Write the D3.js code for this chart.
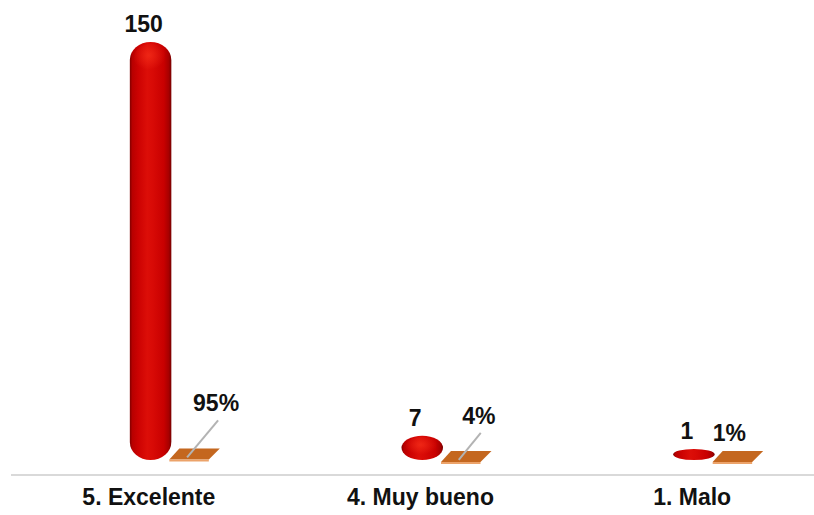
<!DOCTYPE html>
<html>
<head>
<meta charset="utf-8">
<script src="https://cdn.jsdelivr.net/npm/d3@7/dist/d3.min.js"></script>
<style>
  html, body { margin: 0; padding: 0; background: #ffffff; }
  svg { display: block; }
  text { font-family: "Liberation Sans", Arial, sans-serif; font-weight: bold; fill: #111; }
</style>
</head>
<body>
<svg id="chart" width="814" height="515"></svg>
<script>
// Ratings and their counts / shares
const categories = ["5. Excelente", "4. Muy bueno", "1. Malo"];
const counts = [150, 7, 1];
const shares = [0.95, 0.04, 0.01];
const seriesNames = ["Cantidad", "Porcentaje"];

// Manual placement of the share labels (offset from the flat marker), with leader flag
const shareLabelLayout = [
  { dx: 24, dy: -37, leader: true },
  { dx: 15, dy: -27, leader: true },
  { dx: -6, dy: -10, leader: false }
];

const W = 814, H = 515;
const svg = d3.select("#chart");
const baseLineY = 475;

const x = d3.scaleBand().domain(categories).range([13, 828]).padding(0);
const xs = d3.scaleBand().domain(seriesNames).range([-19, 64]).paddingInner(0);
const y = d3.scaleLinear().domain([0, 150]).range([455, 42]);

const defs = svg.append("defs");
const cyl = defs.append("linearGradient").attr("id", "cyl").attr("x1", "0").attr("x2", "1").attr("y1", "0").attr("y2", "0");
[["0%", "#800000"], ["6%", "#b80000"], ["20%", "#cc0202"], ["42%", "#dc0e08"], ["55%", "#d80a06"], ["82%", "#c80000"], ["94%", "#a60000"], ["100%", "#760000"]]
  .forEach(([o, c]) => cyl.append("stop").attr("offset", o).attr("stop-color", c));
const capGlow = defs.append("radialGradient").attr("id", "capGlow").attr("cx", "0.45").attr("cy", "0.4").attr("r", "0.5");
capGlow.append("stop").attr("offset", "0%").attr("stop-color", "#ff3a20").attr("stop-opacity", 0.55);
capGlow.append("stop").attr("offset", "100%").attr("stop-color", "#ff3a20").attr("stop-opacity", 0);

// Baseline
svg.append("line")
  .attr("x1", 11).attr("x2", W).attr("y1", baseLineY).attr("y2", baseLineY)
  .attr("stroke", "#d9d9d9").attr("stroke-width", 2);

const bw = xs.bandwidth();
const barBottom = 460;
const minBarHeight = 11;

function capsule(cx, r, yt, yb) {
  const h = yb - yt;
  const ry = Math.min(18, h / 2);
  return `M${cx - r},${yt + ry} A${r},${ry} 0 0 1 ${cx + r},${yt + ry} L${cx + r},${yb - ry} A${r},${ry} 0 0 1 ${cx - r},${yb - ry} Z`;
}

const groups = svg.selectAll("g.cat").data(categories).join("g").attr("class", "cat")
  .attr("transform", d => `translate(${x(d) + x.bandwidth() / 2},0)`);

// Count cylinders
groups.each(function (d, i) {
  const g = d3.select(this);
  const cx = xs(seriesNames[0]) + bw / 2;
  const r = bw / 2;
  const yt = Math.min(y(counts[i]), barBottom - minBarHeight);
  const path = capsule(cx, r, yt, barBottom);
  g.append("path").attr("d", path).attr("fill", "url(#cyl)");
  const ry = Math.min(18, (barBottom - yt) / 2);
  if (barBottom - yt > 16) {
    g.append("ellipse").attr("cx", cx).attr("cy", yt + ry * 0.9).attr("rx", r * 0.8).attr("ry", ry * 0.8)
      .attr("fill", "url(#capGlow)");
  }
  g.append("text")
    .attr("x", cx - 7).attr("y", yt - 10)
    .attr("text-anchor", "middle").attr("font-size", 23)
    .text(counts[i]);
});

// Share markers (flat, near zero height) with labels
groups.each(function (d, i) {
  const g = d3.select(this);
  const cx = xs(seriesNames[1]) + bw / 2;
  const yTop = y(shares[i]) - 4;
  const yFront = yTop + 11;
  const shear = 8;
  const half = bw / 2;
  g.append("path")
    .attr("d", `M${cx - half + shear},${yTop} L${cx + half + shear - 1},${yTop} L${cx + half - 4},${yFront} L${cx - half - 2},${yFront} Z`)
    .attr("fill", "#c4671f");
  g.append("path")
    .attr("d", `M${cx - half - 2},${yFront} L${cx + half - 4},${yFront} L${cx + half - 4},${yFront + 2} L${cx - half - 2},${yFront + 2} Z`)
    .attr("fill", "#eca36a");
  const lay = shareLabelLayout[i];
  const lx = cx + lay.dx, ly = yTop + lay.dy;
  if (lay.leader) {
    g.append("line")
      .attr("x1", lx + 2).attr("y1", ly + 9)
      .attr("x2", cx - 5).attr("y2", yFront - 2)
      .attr("stroke", "#b3b3b3").attr("stroke-width", 2);
  }
  g.append("text")
    .attr("x", lx).attr("y", ly)
    .attr("text-anchor", "middle").attr("font-size", 23)
    .text(d3.format(".0%")(shares[i]));
});

// Category axis labels
svg.selectAll("text.cat-label").data(categories).join("text")
  .attr("class", "cat-label")
  .attr("x", d => x(d) + x.bandwidth() / 2)
  .attr("y", 505)
  .attr("text-anchor", "middle").attr("font-size", 23)
  .text(d => d);
</script>
</body>
</html>
